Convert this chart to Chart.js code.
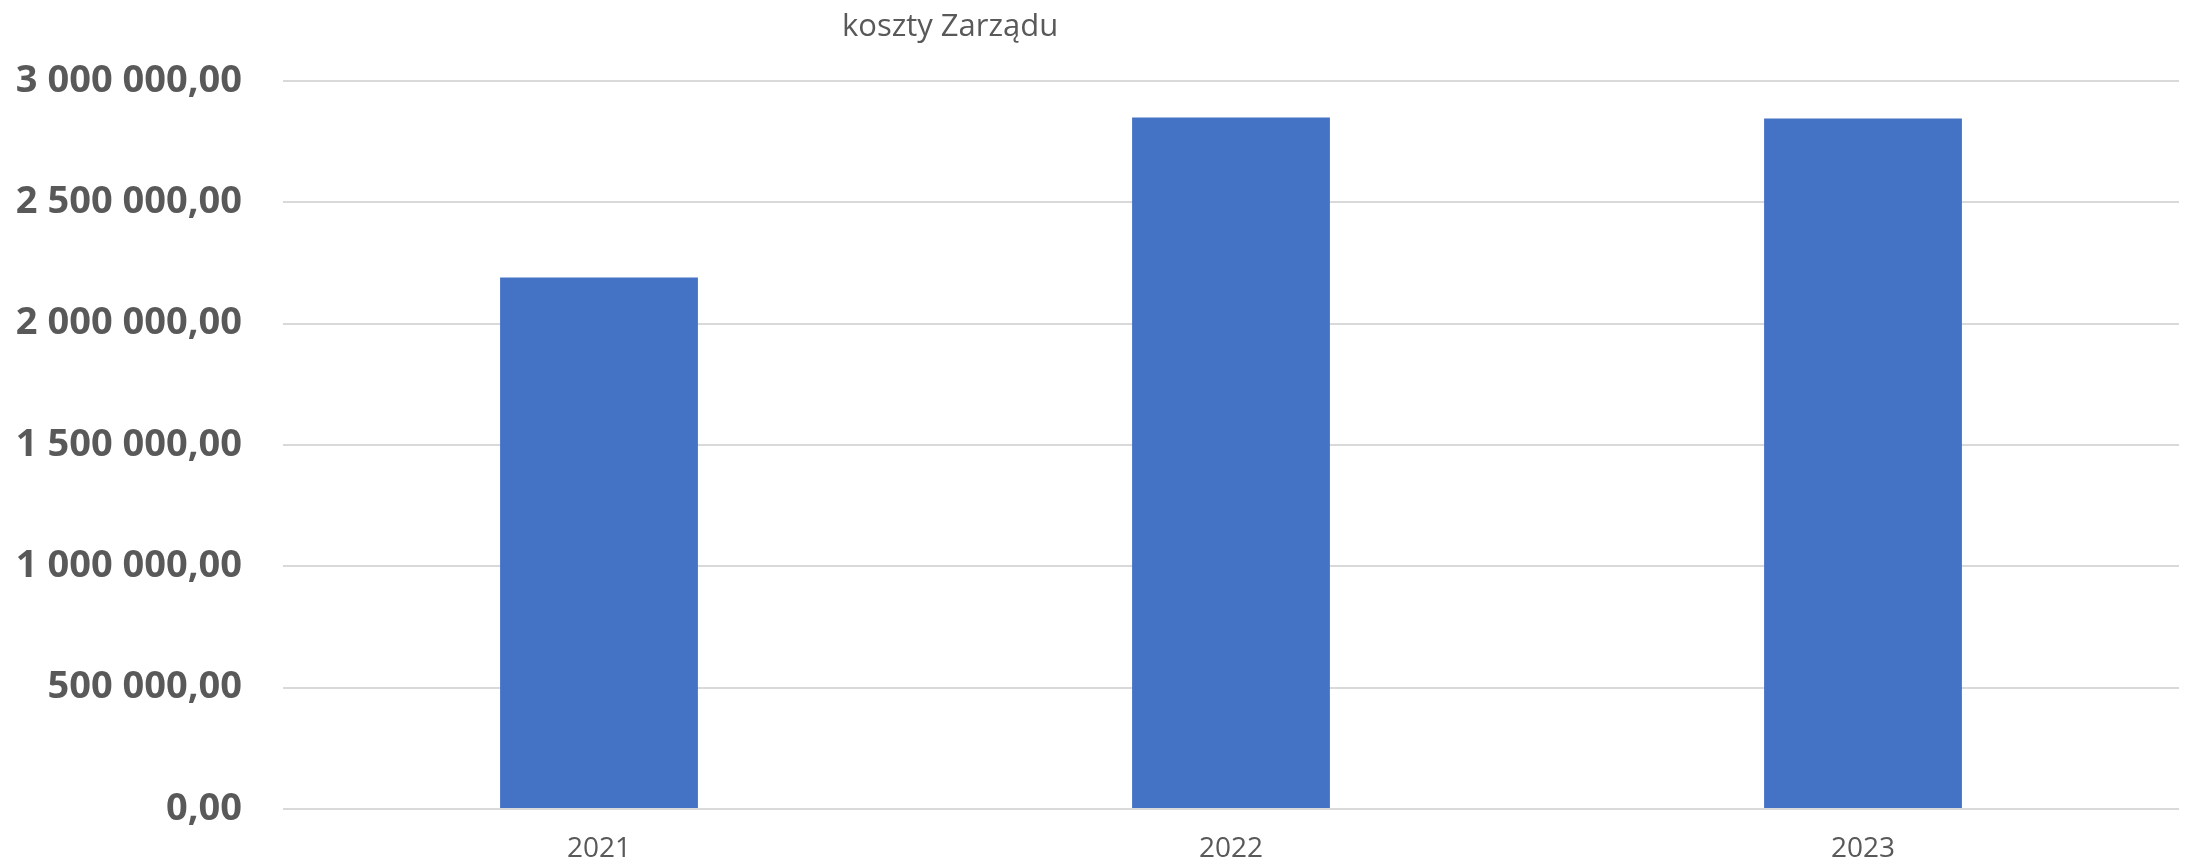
<!DOCTYPE html>
<html>
<head>
<meta charset="utf-8">
<script src="https://cdn.jsdelivr.net/npm/chart.js@4/dist/chart.umd.min.js"></script>
<style>
  html, body { margin: 0; padding: 0; background: #fff; overflow: hidden; }
  #wrap { position: relative; width: 2191px; height: 866px; }
  #title {
    position: absolute; left: 842px; top: 9px;
    font: 31px "Open Sans", sans-serif; line-height: 31px;
    color: #595959; white-space: nowrap;
  }
</style>
</head>
<body>
<div id="wrap">
  <canvas id="chart" width="2191" height="866"></canvas>
  <div id="title">koszty Zarządu</div>
</div>
<script>
// data
var years = ["2021", "2022", "2023"];
var costs = [2190000, 2850000, 2845000];
var yMax = 3000000;
var yStep = 500000;

function plNumber(v){
  var parts = v.toFixed(2).split(".");
  var s = parts[0].replace(/\B(?=(\d{3})+(?!\d))/g, " ");
  return s + "," + parts[1];
}

var ctx = document.getElementById("chart");
var chart = new Chart(ctx, {
  type: "bar",
  data: {
    labels: years,
    datasets: [{
      label: "koszty Zarządu",
      data: costs,
      backgroundColor: "#4472C4",
      borderWidth: 0,
      barPercentage: 0.313,
      categoryPercentage: 1
    }]
  },
  options: {
    responsive: false,
    animation: false,
    layout: { padding: { top: 81, right: 12, bottom: 0, left: 0 } },
    plugins: {
      legend: { display: false },
      tooltip: { enabled: false },
      title: { display: false }
    },
    scales: {
      x: {
        grid: { display: false, drawTicks: false },
        border: { display: false },
        ticks: {
          color: "#595959",
          padding: 23,
          font: { family: "Open Sans", size: 28 }
        },
        afterFit: function(scale){ scale.height = 57; }
      },
      y: {
        min: 0,
        max: yMax,
        grid: { color: "#d9d9d9", lineWidth: 2, drawTicks: false },
        border: { display: false },
        ticks: {
          stepSize: yStep,
          color: "#595959",
          padding: 41,
          font: { family: "Open Sans", size: 38, weight: "bold" },
          callback: function(v){ return plNumber(v); }
        },
        afterFit: function(scale){
          scale.width = 283;
          // labels may hang over the ends of the axis
          scale.paddingTop = 0;
          scale.paddingBottom = 0;
        }
      }
    }
  }
});
</script>
</body>
</html>
